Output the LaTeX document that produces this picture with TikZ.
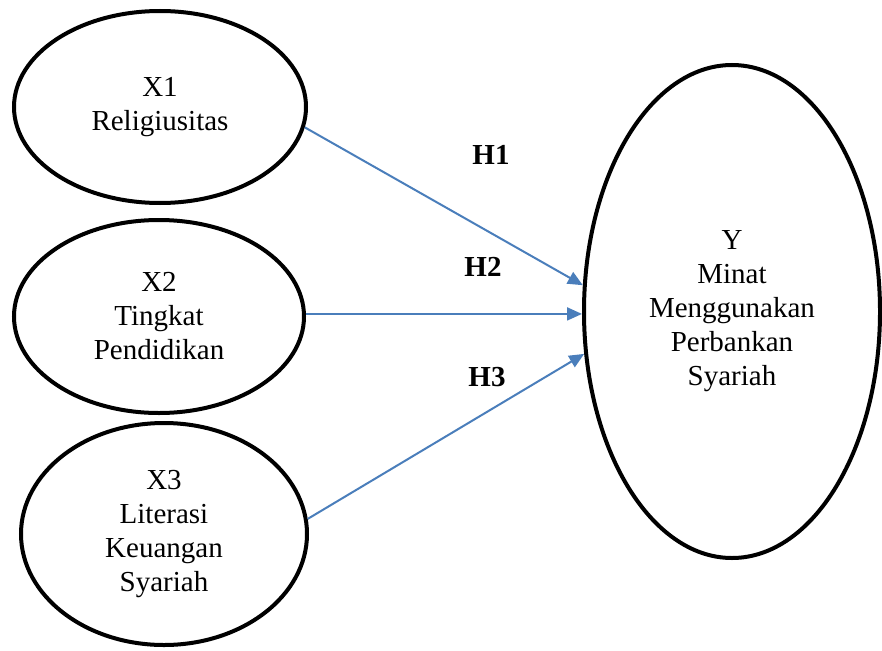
\documentclass[tikz,border=0pt]{standalone}
\usepackage{fontspec}
\setmainfont{Liberation Serif}
\usetikzlibrary{shapes.geometric,arrows.meta}
\definecolor{arrowblue}{RGB}{74,126,187}
\tikzset{
  var/.style={ellipse, draw=black, line width=4pt, inner sep=0pt, align=center,
    font=\fontsize{29}{34}\selectfont},
  link/.style={draw=arrowblue, line width=2pt, -{Triangle[length=15pt,width=13pt]}},
  hyp/.style={font=\fontsize{29}{33.5}\selectfont\bfseries, inner sep=0pt}
}
\begin{document}
\begin{tikzpicture}[x=1pt,y=-1pt]
\useasboundingbox (0,0) rectangle (882,650);
\node[var, minimum width=292pt, minimum height=192pt] (x1) at (160,107) {X1\\Religiusitas};
\node[var, minimum width=290pt, minimum height=193pt] (x2) at (159,316.5) {X2\\Tingkat\\Pendidikan};
\node[var, minimum width=286pt, minimum height=222pt] (x3) at (164,534) {X3\\Literasi\\Keuangan\\Syariah};
\node[var, minimum width=296pt, minimum height=493pt] (y) at (732,311.5) {Y\\Minat\\Menggunakan\\Perbankan\\Syariah};
\draw[link] (x1.-8) -- (y.170);
\draw[link] (x2.1) -- (x2.1 -| y.west);
\draw[link] (x3.6) -- (y.196);
\node[hyp, anchor=base] (h1) at (491,164) {H1};
\node[hyp, anchor=base] (h2) at (483,276) {H2};
\node[hyp, anchor=base] (h3) at (487,386) {H3};
\end{tikzpicture}
\end{document}
